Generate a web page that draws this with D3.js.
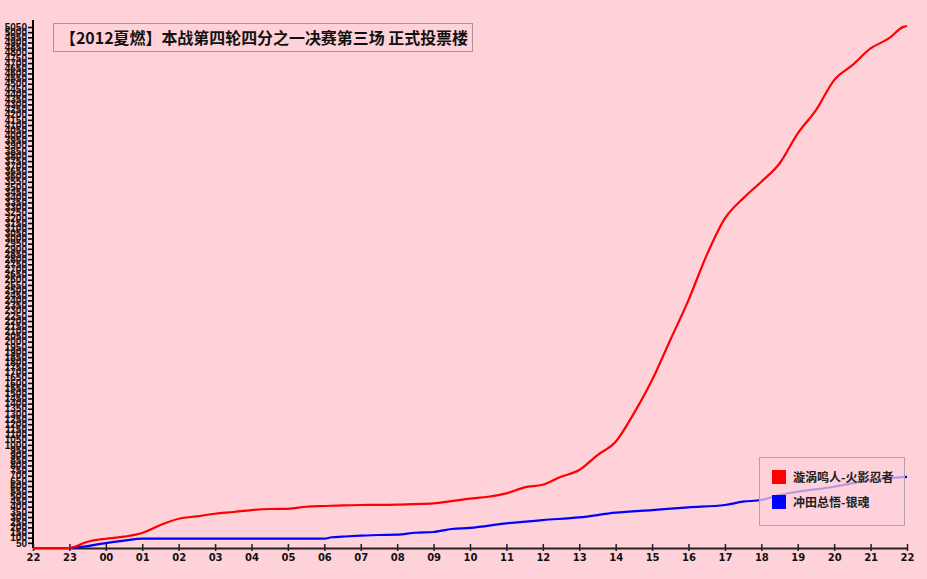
<!DOCTYPE html>
<html><head><meta charset="utf-8">
<script src="https://cdn.jsdelivr.net/npm/d3@7/dist/d3.min.js"></script>
<style>
html,body{margin:0;padding:0;background:#FFD1D9;}
svg{display:block;}
</style></head>
<body>
<svg id="chart" width="927" height="579"></svg>
<script>
const title = "【2012夏燃】本战第四轮四分之一决赛第三场 正式投票楼";
const seriesNames = ["漩涡鸣人-火影忍者", "冲田总悟-银魂"];
const seriesColors = ["#FF0000", "#0000FF"];
const xTickLabels = ["22","23","00","01","02","03","04","05","06","07","08","09","10","11","12","13","14","15","16","17","18","19","20","21","22"];
// hours since 22:00
const redHours = [0,1,1.5,2,2.5,3,3.5,4,4.5,5,5.5,6,6.5,7,7.5,8,8.5,9,9.5,10,10.5,11,11.5,12,12.5,13,13.5,14,14.5,15,15.5,16,16.5,17,17.5,18,18.5,19,19.5,20,20.5,21,21.5,22,22.5,23,23.5,23.9,24];
const redValues = [0,0,61,90,110,145,223,284,307,332,349,368,378,380,400,407,414,417,418,420,426,433,455,478,497,530,588,613,691,756,901,1030,1305,1628,2016,2403,2839,3195,3389,3550,3727,4018,4244,4535,4680,4842,4939,5051,5060];
const blueHours = [0,1,1.5,2,2.5,3,8,8.2,8.5,9,9.5,10,10.5,11,11.5,12,13,14,15,16,17,18,19,19.5,20,20.5,21,22,23,24];
const blueValues = [0,0,19,48,71,90,90,104,110,119,126,129,148,155,184,195,239,271,297,342,368,394,417,449,465,514,546,594,659,690];
const yTicks = d3.range(50, 5051, 50);

const svg = d3.select("#chart");
const x = d3.scaleLinear().domain([0, 24]).range([33, 907]);
const y = d3.scaleLinear().domain([0, 5050]).range([548, 27]);

// y axis
const yAxis = d3.axisLeft(y).tickValues(yTicks).tickSize(5).tickPadding(1).tickFormat(d3.format("d"));
const gy = svg.append("g").attr("transform", "translate(33,0)").call(yAxis);
gy.select(".domain").attr("stroke", "#000").attr("stroke-width", 2).attr("d", "M0,20V548");
gy.selectAll(".tick line").attr("stroke", "#000").attr("stroke-width", 1.6).attr("x2", -5).attr("x1", 1);
gy.selectAll(".tick text").attr("font-family", "Liberation Sans Narrow, Liberation Sans, Arial, sans-serif").attr("font-size", 10).attr("font-weight", "bold").attr("fill", "#111");

// x axis
const xAxis = d3.axisBottom(x).tickValues(d3.range(0, 25)).tickSize(0).tickPadding(6).tickFormat((d, i) => xTickLabels[i]);
const gx = svg.append("g").attr("transform", "translate(0,548)").call(xAxis);
gx.select(".domain").attr("stroke", "#222").attr("stroke-width", 2);
gx.selectAll(".tick").append("line").attr("y1", -4).attr("y2", 3).attr("stroke", "#222").attr("stroke-width", 1.5);
gx.selectAll(".tick text").attr("font-family", "DejaVu Sans, sans-serif").attr("font-size", 10).attr("font-weight", "bold").attr("fill", "#111");

// lines
const line = d3.line().x(d => x(d[0])).y(d => y(d[1])).curve(d3.curveMonotoneX);
const redData = redHours.map((h, i) => [h, redValues[i]]);
const blueData = blueHours.map((h, i) => [h, blueValues[i]]);
svg.append("path").datum(blueData).attr("d", line).attr("fill", "none").attr("stroke", seriesColors[1]).attr("stroke-width", 2.2);
svg.append("path").datum(redData).attr("d", line).attr("fill", "none").attr("stroke", seriesColors[0]).attr("stroke-width", 2.2);

// title box
const tg = svg.append("g");
tg.append("rect").attr("x", 53.5).attr("y", 23.5).attr("width", 419).attr("height", 28).attr("fill", "none").attr("stroke", "#A8929C").attr("stroke-width", 1);
tg.append("text").attr("x", 60).attr("y", 44).text(title)
  .attr("font-family", "Noto Sans CJK SC, sans-serif").attr("font-size", 16).attr("font-weight", "bold").attr("fill", "#111")
  .attr("textLength", 408).attr("lengthAdjust", "spacingAndGlyphs");

// legend
const lg = svg.append("g");
lg.append("rect").attr("x", 759.5).attr("y", 457.5).attr("width", 145).attr("height", 68)
  .attr("fill", "rgba(255,209,217,0.72)").attr("stroke", "#B8A0A8").attr("stroke-width", 1);
seriesNames.forEach((n, i) => {
  lg.append("rect").attr("x", 772).attr("y", 470 + i * 25).attr("width", 14).attr("height", 14).attr("fill", seriesColors[i]);
  lg.append("text").attr("x", 793).attr("y", 482 + i * 25).text(n)
    .attr("font-family", "Noto Sans CJK SC, sans-serif").attr("font-size", 12).attr("font-weight", "bold").attr("fill", "#222");
});
</script>
</body></html>
